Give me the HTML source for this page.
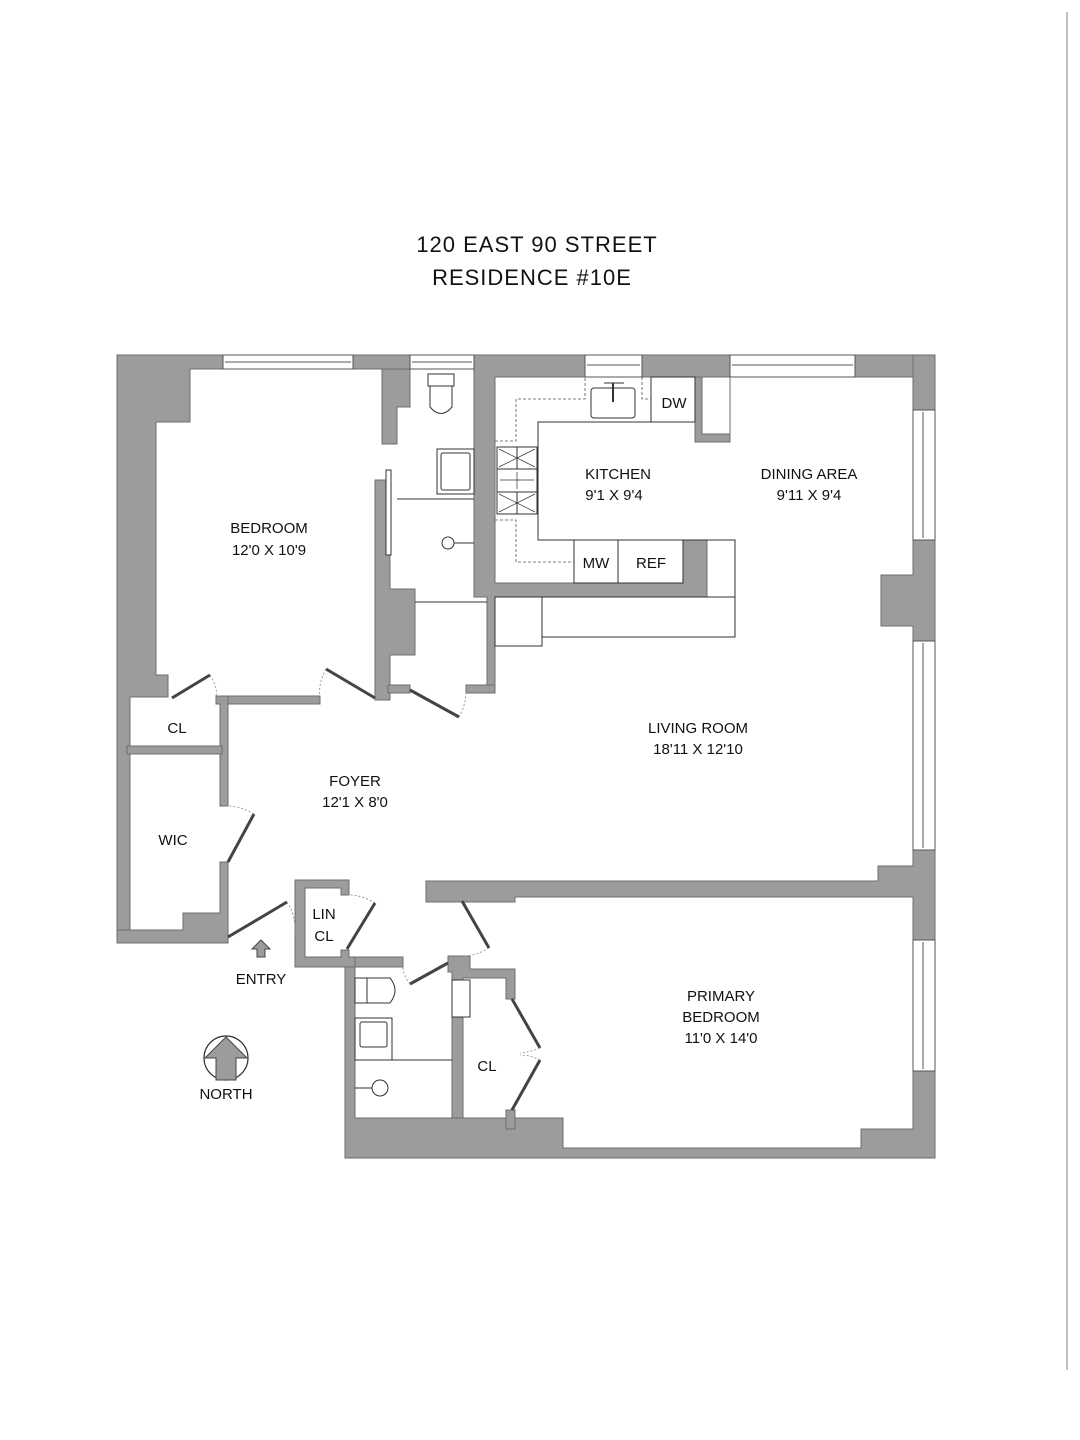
<!DOCTYPE html>
<html><head><meta charset="utf-8"><style>
html,body{margin:0;padding:0;background:#fff;}
svg{display:block;}
text{font-family:"Liberation Sans Narrow","Liberation Sans",sans-serif;fill:#111;}
</style></head><body>
<svg width="1080" height="1440" viewBox="0 0 1080 1440" xmlns="http://www.w3.org/2000/svg">
<rect width="1080" height="1440" fill="#fff"/>
<line x1="1067" y1="12" x2="1067" y2="1370" stroke="#aaa" stroke-width="1.5"/>

<text x="537" y="252" font-size="22" text-anchor="middle" letter-spacing="1">120 EAST 90 STREET</text>
<text x="532" y="285" font-size="22" text-anchor="middle" letter-spacing="1">RESIDENCE #10E</text>

<g fill="#9e9b9b" stroke="#6e6e6e" stroke-width="1">
<polygon points="117,355 223,355 223,369 190,369 190,422 156,422 156,675 168,675 168,697 130,697 130,942 117,942"/>
<rect x="353" y="355" width="57" height="14"/>
<polygon points="382,369 410,369 410,407 397,407 397,444 382,444"/>
<polygon points="382,480 390,480 390,589 415,589 415,655 390,655 390,700 375,700 375,480"/>
<polygon points="474,355 585,355 585,377 495,377 495,583 683,583 683,540 707,540 707,597 495,597 495,693 487,693 487,597 474,597"/>
<rect x="642" y="355" width="88" height="22"/>
<polygon points="695,377 730,377 730,442 695,442"/>
<rect x="855" y="355" width="80" height="22"/>
<rect x="913" y="355" width="22" height="55"/>
<polygon points="913,540 935,540 935,641 913,641 913,626 881,626 881,575 913,575"/>
<polygon points="913,850 935,850 935,940 913,940 913,897 515,897 515,902 426,902 426,881 878,881 878,866 913,866"/>
<polygon points="913,1071 935,1071 935,1158 345,1158 345,957 403,957 403,967 355,967 355,1118 563,1118 563,1148 861,1148 861,1129 913,1129"/>
<rect x="216" y="696" width="104" height="8"/>
<polygon points="216,696 228,696 228,806 220,806 220,704 216,704"/>
<polygon points="220,862 228,862 228,943 117,943 117,930 183,930 183,913 220,913"/>
<rect x="127" y="746" width="95" height="8"/>
<rect x="388" y="685" width="22" height="8"/>
<rect x="466" y="685" width="29" height="8"/>
<polygon points="295,880 349,880 349,895 341,895 341,888 305,888 305,957 341,957 341,950 349,950 349,957 355,957 355,967 295,967"/>
<polygon points="448,956 470,956 470,969 515,969 515,999 506,999 506,978 463,978 463,1118 452,1118 452,972 448,972"/>
<rect x="506" y="1110" width="9" height="19"/>
</g>
<rect x="702" y="377" width="28" height="57" fill="#fff" stroke="#6e6e6e" stroke-width="1"/>

<g fill="#fff" stroke="#555" stroke-width="1">
<rect x="223" y="355" width="130" height="14"/>
<line x1="225" y1="362" x2="351" y2="362"/>
<rect x="410" y="355" width="64" height="14"/>
<line x1="412" y1="362" x2="472" y2="362"/>
<rect x="585" y="355" width="57" height="22"/>
<line x1="587" y1="365" x2="640" y2="365"/>
<rect x="730" y="355" width="125" height="22"/>
<line x1="732" y1="365" x2="853" y2="365"/>
<rect x="913" y="410" width="22" height="130"/>
<line x1="923" y1="412" x2="923" y2="538"/>
<rect x="913" y="641" width="22" height="209"/>
<line x1="923" y1="643" x2="923" y2="848"/>
<rect x="913" y="940" width="22" height="131"/>
<line x1="923" y1="942" x2="923" y2="1069"/>
</g>

<g fill="none" stroke="#333" stroke-width="1">
<polyline points="695,422 538,422 538,540 735,540 735,637 542,637 542,597"/>
<rect x="495" y="597" width="47" height="49"/>
<rect x="651" y="377" width="44" height="45"/>
<rect x="574" y="540" width="44" height="43"/>
<rect x="618" y="540" width="65" height="43"/>
<rect x="591" y="388" width="44" height="30" rx="3"/>
<line x1="604" y1="383" x2="624" y2="383"/>
<line x1="613" y1="383" x2="613" y2="402" stroke-width="2"/>
<rect x="497" y="447" width="40" height="67"/>
<line x1="497" y1="469" x2="537" y2="469"/><line x1="497" y1="492" x2="537" y2="492"/>
<line x1="517" y1="447" x2="517" y2="469"/><line x1="517" y1="492" x2="517" y2="514"/>
<path d="M499 449 L535 467 M535 449 L499 467 M499 494 L535 512 M535 494 L499 512 M500 480 L534 480 M517 472 L517 489" stroke-width="0.7"/>
</g>
<g fill="none" stroke="#555" stroke-width="0.8" stroke-dasharray="3,2">
<polyline points="495,441 516,441 516,399 585,399 585,377"/>
<polyline points="642,377 642,399 651,399"/>
<polyline points="495,520 516,520 516,562 574,562"/>
</g>

<g fill="#fff" stroke="#333" stroke-width="1">
<rect x="428" y="374" width="26" height="12"/>
<path d="M430 386 L452 386 L452 407 Q441 420 430 407 Z"/>
<rect x="437" y="449" width="37" height="45"/>
<rect x="441" y="453" width="29" height="37" rx="2"/>
<line x1="397" y1="499" x2="474" y2="499"/>
<circle cx="448" cy="543" r="6"/>
<line x1="454" y1="543" x2="474" y2="543"/>
<rect x="386" y="470" width="5" height="85"/>
<rect x="355" y="978" width="12" height="25"/>
<path d="M367 978 L390 978 Q400 990 390 1003 L367 1003 Z"/>
<rect x="355" y="1018" width="37" height="42"/>
<rect x="360" y="1022" width="27" height="25" rx="2"/>
<line x1="355" y1="1060" x2="452" y2="1060"/>
<circle cx="380" cy="1088" r="8"/>
<line x1="355" y1="1088" x2="372" y2="1088"/>
<rect x="452" y="980" width="18" height="37"/>
<line x1="415" y1="602" x2="487" y2="602"/>
<rect x="542" y="597" width="193" height="40" fill="none"/>
</g>

<g stroke="#444" stroke-width="3" fill="none">
<line x1="172" y1="698" x2="210" y2="675"/>
<line x1="326" y1="669" x2="375" y2="698"/>
<line x1="410" y1="690" x2="459" y2="717"/>
<line x1="228" y1="862" x2="254" y2="814"/>
<line x1="228" y1="937" x2="287" y2="902"/>
<line x1="347" y1="949" x2="375" y2="903"/>
<line x1="410" y1="984" x2="448" y2="963"/>
<line x1="462" y1="901" x2="489" y2="948"/>
<line x1="512" y1="999" x2="540" y2="1048"/>
<line x1="512" y1="1110" x2="540" y2="1060"/>
</g>
<g stroke="#888" stroke-width="0.8" fill="none" stroke-dasharray="2,2">
<path d="M210 675 Q218 688 216 696"/>
<path d="M326 669 Q318 684 320 696"/>
<path d="M459 717 Q466 705 466 690"/>
<path d="M254 814 Q240 806 228 806"/>
<path d="M287 902 Q296 915 295 935"/>
<path d="M375 903 Q362 895 349 895"/>
<path d="M410 984 Q403 975 403 967"/>
<path d="M489 948 Q476 956 463 956"/>
<path d="M540 1048 Q530 1052 520 1053 M540 1060 Q530 1055 520 1055"/>
</g>

<circle cx="226" cy="1058" r="22" fill="#fff" stroke="#333" stroke-width="1.2"/>
<polygon points="226,1037 247,1058 236,1058 236,1080 216,1080 216,1058 205,1058" fill="#9e9b9b" stroke="#444" stroke-width="1"/>
<polygon points="261,940 270,949 265,949 265,957 257,957 257,949 252,949" fill="#9e9b9b" stroke="#444" stroke-width="1"/>

<g font-size="15" text-anchor="middle">
<text x="269" y="533">BEDROOM</text>
<text x="269" y="555">12'0 X 10'9</text>
<text x="618" y="479">KITCHEN</text>
<text x="614" y="500">9'1 X 9'4</text>
<text x="809" y="479">DINING AREA</text>
<text x="809" y="500">9'11 X 9'4</text>
<text x="674" y="408">DW</text>
<text x="596" y="568">MW</text>
<text x="651" y="568">REF</text>
<text x="698" y="733">LIVING ROOM</text>
<text x="698" y="754">18'11 X 12'10</text>
<text x="355" y="786">FOYER</text>
<text x="355" y="807">12'1 X 8'0</text>
<text x="177" y="733">CL</text>
<text x="173" y="845">WIC</text>
<text x="324" y="919">LIN</text>
<text x="324" y="941">CL</text>
<text x="261" y="984">ENTRY</text>
<text x="226" y="1099">NORTH</text>
<text x="487" y="1071">CL</text>
<text x="721" y="1001">PRIMARY</text>
<text x="721" y="1022">BEDROOM</text>
<text x="721" y="1043">11'0 X 14'0</text>
</g>
</svg>
</body></html>
